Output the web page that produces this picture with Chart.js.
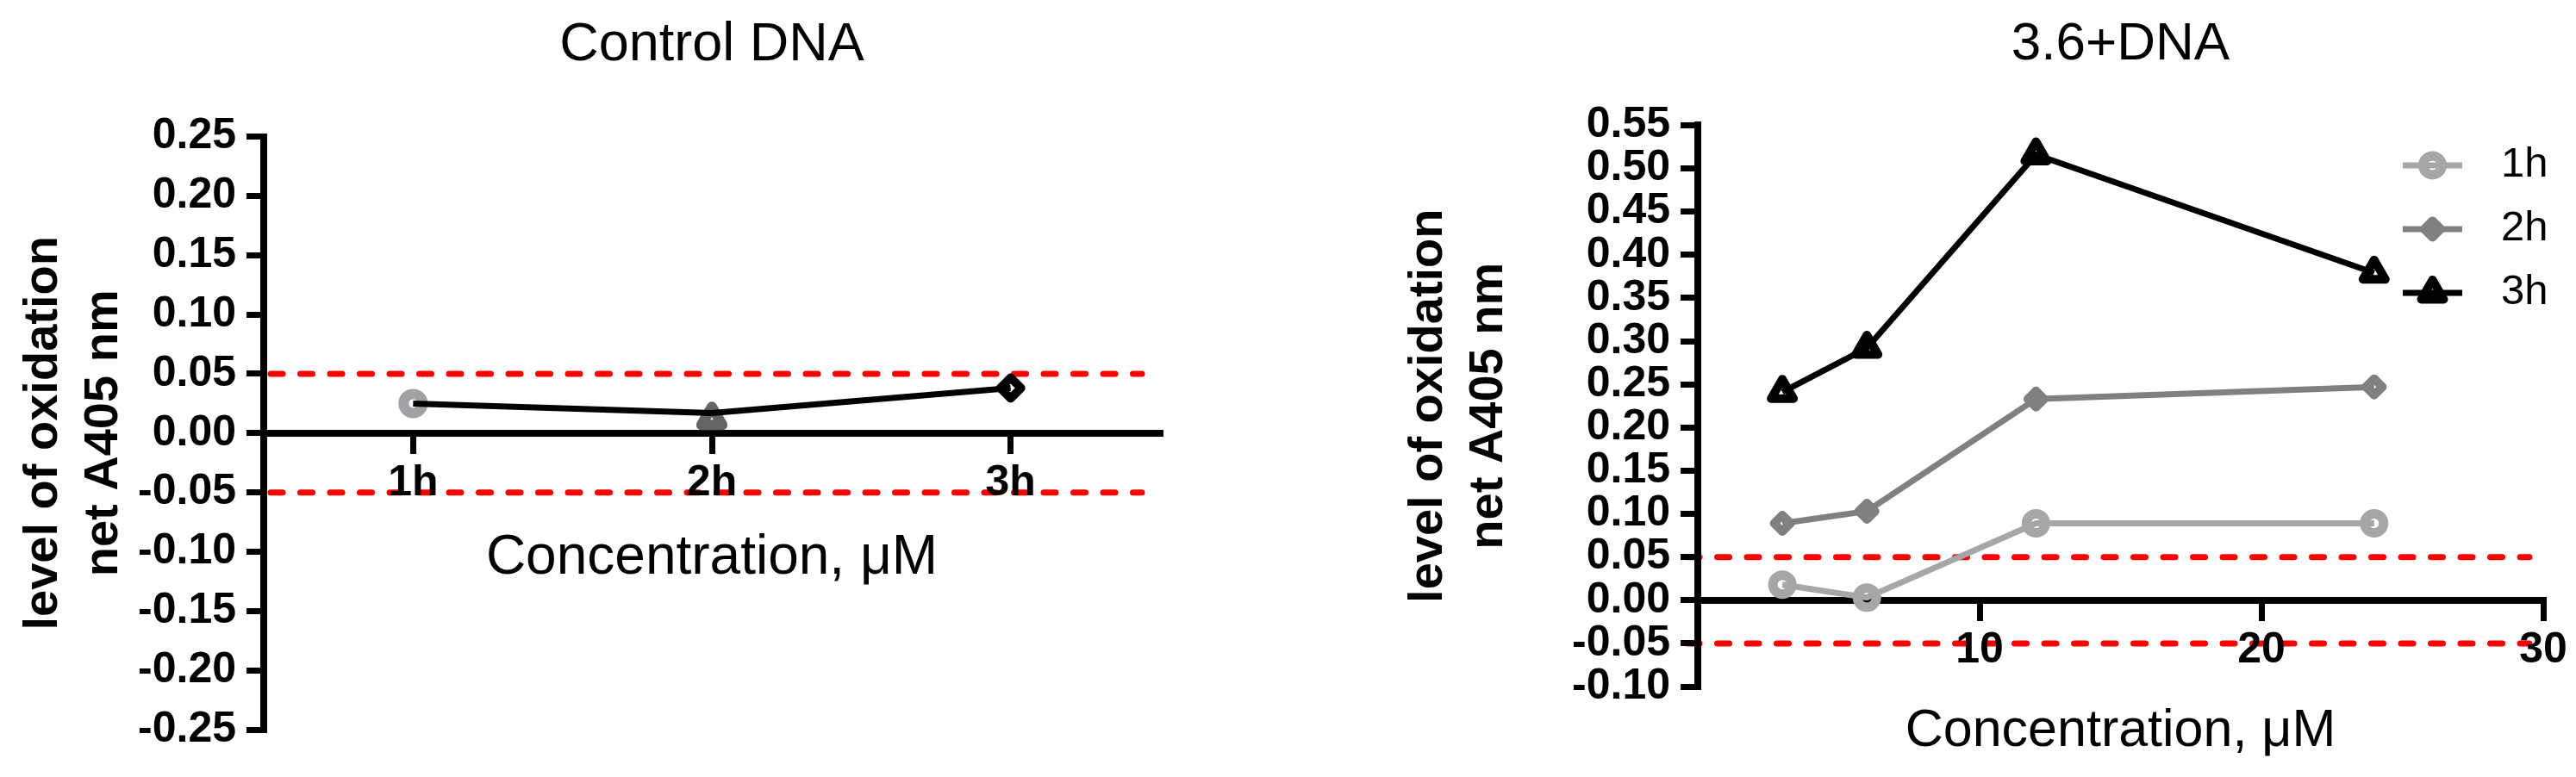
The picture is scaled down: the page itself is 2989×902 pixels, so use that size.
<!DOCTYPE html>
<html>
<head>
<meta charset="utf-8">
<title>Oxidation level</title>
<script src="https://cdn.jsdelivr.net/npm/chart.js@4.4.1/dist/chart.umd.min.js"></script>
<style>
  html, body { margin: 0; padding: 0; background: #fff; overflow: hidden; }
  #controlChart { position: absolute; left: 0; top: 0; }
  #drugChart { position: absolute; left: 1420px; top: 0; }
</style>
</head>
<body>
<canvas id="controlChart" width="1420" height="902"></canvas>
<canvas id="drugChart" width="1569" height="902"></canvas>
<script>
const FONT = "'Liberation Sans', Arial, sans-serif";

// Control DNA panel
const controlLabels = ['1h', '2h', '3h'];
const controlLine = [0.025, 0.017, 0.038];
const controlMarks = [0.025, 0.012, 0.038];

// 3.6+DNA panel
const concentrations = [3, 6, 12, 24];
const series1h = [0.018, 0.003, 0.089, 0.089];
const series2h = [0.089, 0.103, 0.233, 0.247];
const series3h = [0.241, 0.292, 0.516, 0.379];
const seriesNames = ['1h', '2h', '3h'];

const thresholds = [0.05, -0.05];
const yTitle = ['level of oxidation', 'net A405 nm'];
const xTitle = 'Concentration, \u03bcM';

Chart.defaults.font.family = FONT;
Chart.defaults.color = '#000';

const fmt = v => (Math.abs(v) < 1e-9 ? 0 : v).toFixed(2);

// red dashed limits at +/-0.05, under everything else
const thresholdLines = {
  id: 'thresholdLines',
  beforeDraw(chart, args, opts) {
    const {ctx, chartArea, scales: {y}} = chart;
    ctx.save();
    ctx.strokeStyle = '#ff0000';
    ctx.lineWidth = 7;
    ctx.lineCap = 'round';
    ctx.setLineDash([14, 20.5]);
    thresholds.forEach(v => {
      const py = y.getPixelForValue(v);
      ctx.beginPath();
      ctx.moveTo(chartArea.left + opts.start, py);
      ctx.lineTo(chartArea.right - opts.end, py);
      ctx.stroke();
    });
    ctx.restore();
  }
};

// markers with rounded corners
const roundJoins = {
  id: 'roundJoins',
  beforeDatasetsDraw(chart) { chart.ctx.lineJoin = 'round'; }
};

// legend with line + marker, placed inside the plot on the right
const sideLegend = {
  id: 'sideLegend',
  afterDatasetsDraw(chart, args, opts) {
    if (!opts.display) return;
    const {ctx, chartArea} = chart;
    const x0 = chartArea.right - opts.right;
    chart.data.datasets.forEach((ds, i) => {
      const yy = chartArea.top + opts.top + i * opts.gap;
      ctx.save();
      ctx.strokeStyle = ds.borderColor;
      ctx.lineWidth = ds.borderWidth;
      ctx.beginPath();
      ctx.moveTo(x0, yy);
      ctx.lineTo(x0 + opts.lineLen, yy);
      ctx.stroke();
      ctx.lineJoin = 'round';
      ctx.strokeStyle = ds.pointBorderColor;
      ctx.fillStyle = 'rgba(0,0,0,0)';
      ctx.lineWidth = ds.pointBorderWidth;
      Chart.helpers.drawPoint(ctx, {
        pointStyle: ds.pointStyle, radius: ds.pointRadius,
        borderWidth: ds.pointBorderWidth, rotation: 0
      }, x0 + opts.lineLen / 2, yy);
      ctx.fillStyle = '#000';
      ctx.font = opts.font;
      ctx.textAlign = 'left';
      ctx.textBaseline = 'middle';
      ctx.fillText(ds.label, x0 + opts.textGap, yy);
      ctx.restore();
    });
  }
};

const axisGrid = { drawOnChartArea: false, drawTicks: true, tickLength: 20, lineWidth: 7, color: '#000', offset: false };
const axisBorder = { display: true, width: 8, color: '#000' };
const tickFont = { size: 50, weight: 'bold' };
const yTitleOpts = (padTop) => ({
  display: true, text: yTitle, color: '#000',
  font: { size: 56, weight: 'bold', lineHeight: 1.25 },
  padding: { top: padTop, bottom: 0 }
});

new Chart(document.getElementById('controlChart'), {
  type: 'line',
  data: {
    labels: controlLabels,
    datasets: [{
      label: 'Control DNA',
      data: controlLine,
      borderColor: '#000',
      borderWidth: 7,
      pointRadius: 0,
      clip: false
    }, {
      label: 'time points',
      data: controlMarks,
      showLine: false,
      pointStyle: ['circle', 'triangle', 'rectRot'],
      pointRadius: [11, 14, 12],
      pointBorderWidth: [12, 12, 10],
      pointBorderColor: ['#a2a2a6', '#646464', '#000000'],
      pointBackgroundColor: 'rgba(0,0,0,0)',
      clip: false
    }]
  },
  options: {
    responsive: false,
    animation: false,
    devicePixelRatio: 1,
    layout: { padding: { left: 0, right: 74, top: 0, bottom: 55 } },
    scales: {
      x: {
        type: 'category',
        position: { y: 0 },
        offset: true,
        grid: axisGrid,
        border: axisBorder,
        ticks: { font: tickFont, padding: 8, color: '#000' },
        title: { display: true, text: xTitle, color: '#000', font: { size: 64 }, padding: 0 },
        afterFit(s) { s.height = 184.4; }
      },
      y: {
        type: 'linear',
        position: 'left',
        min: -0.25,
        max: 0.25,
        grid: axisGrid,
        border: axisBorder,
        ticks: { stepSize: 0.05, autoSkip: false, maxTicksLimit: 20, font: tickFont, padding: 12, color: '#000', callback: fmt },
        title: yTitleOpts(15.6),
        afterFit(s) { s.width = 306; }
      }
    },
    plugins: {
      legend: { display: false },
      tooltip: { enabled: false },
      title: {
        display: true, text: 'Control DNA', fullSize: false, color: '#000',
        font: { size: 63, weight: 'normal' },
        padding: { top: 15, bottom: 68 }
      },
      thresholdLines: { start: 8, end: 21 },
      sideLegend: { display: false }
    }
  },
  plugins: [thresholdLines, roundJoins, sideLegend]
});

new Chart(document.getElementById('drugChart'), {
  type: 'line',
  data: {
    datasets: [{
      label: seriesNames[0],
      data: concentrations.map((c, i) => ({ x: c, y: series1h[i] })),
      borderColor: '#a6a6a8',
      borderWidth: 7,
      pointStyle: 'circle',
      pointRadius: 11,
      pointBorderWidth: 11,
      pointBorderColor: '#a6a6a8',
      pointBackgroundColor: 'rgba(0,0,0,0)',
      clip: false
    }, {
      label: seriesNames[1],
      data: concentrations.map((c, i) => ({ x: c, y: series2h[i] })),
      borderColor: '#808080',
      borderWidth: 7,
      pointStyle: 'rectRot',
      pointRadius: 9.5,
      pointBorderWidth: 10,
      pointBorderColor: '#808080',
      pointBackgroundColor: 'rgba(0,0,0,0)',
      clip: false
    }, {
      label: seriesNames[2],
      data: concentrations.map((c, i) => ({ x: c, y: series3h[i] })),
      borderColor: '#000000',
      borderWidth: 7,
      pointStyle: 'triangle',
      pointRadius: 15,
      pointBorderWidth: 10,
      pointBorderColor: '#000000',
      pointBackgroundColor: 'rgba(0,0,0,0)',
      clip: false
    }]
  },
  options: {
    responsive: false,
    animation: false,
    devicePixelRatio: 1,
    layout: { padding: { left: 0, right: 38, top: 0, bottom: 105 } },
    scales: {
      x: {
        type: 'linear',
        position: { y: 0 },
        min: 0,
        max: 30,
        grid: axisGrid,
        border: axisBorder,
        ticks: { stepSize: 10, font: tickFont, padding: 8, color: '#000', callback: v => (v === 0 ? '' : v) },
        title: { display: true, text: xTitle, color: '#000', font: { size: 61 }, padding: 0 },
        afterFit(s) { s.height = 189; }
      },
      y: {
        type: 'linear',
        position: 'left',
        min: -0.1,
        max: 0.55,
        grid: axisGrid,
        border: axisBorder,
        ticks: { stepSize: 0.05, autoSkip: false, maxTicksLimit: 20, font: tickFont, padding: 12, color: '#000', callback: fmt },
        title: yTitleOpts(202.6),
        afterFit(s) { s.width = 550; }
      }
    },
    plugins: {
      legend: { display: false },
      tooltip: { enabled: false },
      title: {
        display: true, text: '3.6+DNA', fullSize: false, color: '#000',
        font: { size: 62, weight: 'normal' },
        padding: { top: 15, bottom: 56 }
      },
      thresholdLines: { start: -12, end: 16 },
      sideLegend: {
        display: true, right: 163, lineLen: 69, textGap: 114, top: 46.5, gap: 74,
        font: '49px ' + FONT
      }
    }
  },
  plugins: [thresholdLines, roundJoins, sideLegend]
});
</script>
</body>
</html>
